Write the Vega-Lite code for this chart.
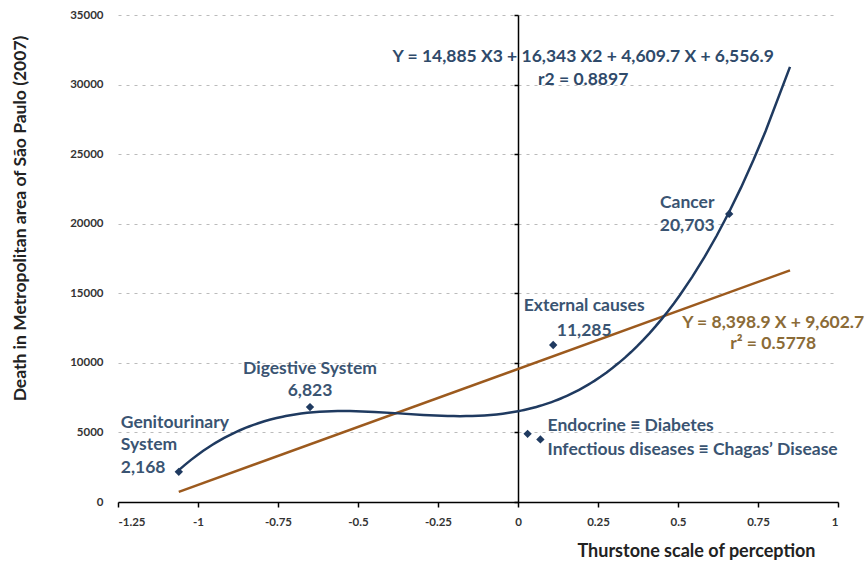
{
  "$schema": "https://vega.github.io/schema/vega-lite/v6.json",
  "autosize": "none",
  "padding": {"left": 118, "top": 15, "right": 28, "bottom": 69},
  "width": 720,
  "height": 487,
  "background": "white",
  "config": {"view": {"stroke": null}, "font": "Lato"},
  "data": {"values": [
    {"cause": "Genitourinary System", "x": -1.06, "deaths": 2168},
    {"cause": "Digestive System", "x": -0.65, "deaths": 6823},
    {"cause": "Endocrine", "x": 0.03, "deaths": 4900},
    {"cause": "Infectious diseases", "x": 0.07, "deaths": 4500},
    {"cause": "External causes", "x": 0.11, "deaths": 11285},
    {"cause": "Cancer", "x": 0.66, "deaths": 20703}
  ]},
  "encoding": {
    "x": {"field": "x", "type": "quantitative",
      "scale": {"domain": [-1.25, 1], "nice": false, "zero": false},
      "axis": {"values": [-1.25, -1, -0.75, -0.5, -0.25, 0, 0.25, 0.5, 0.75, 1],
        "labelExpr": "replace(format(datum.value, '.4~g'), '\u2212', '-')",
        "grid": false, "domainColor": "#000000", "domainWidth": 1.5,
        "tickColor": "#000000", "tickWidth": 1.5, "tickSize": 5,
        "labelFont": "Lato", "labelFontWeight": "bold", "labelFontSize": 11.5, "labelColor": "#333333", "labelPadding": 9,
        "title": "Thurstone scale of perception", "titleFont": "Lato", "titleFontWeight": "bold", "titleFontSize": 18, "titleColor": "#222222",
        "titleX": 697, "titleY": 49, "titleAlign": "right", "titleBaseline": "middle", "titleAnchor": null}},
    "y": {"field": "deaths", "type": "quantitative",
      "scale": {"domain": [0, 35000], "nice": false},
      "axis": {"values": [0, 5000, 10000, 15000, 20000, 25000, 30000, 35000], "format": "d",
        "offset": -400, "domainColor": "#000000", "domainWidth": 1.5,
        "tickColor": "#000000", "tickWidth": 1.5, "tickSize": 4, "labelPadding": 411,
        "grid": true, "gridColor": "#BBBBBB", "gridDash": [3, 5], "gridWidth": 1,
        "labelFont": "Lato", "labelFontWeight": "bold", "labelFontSize": 11.5, "labelColor": "#333333",
        "title": "Death in Metropolitan area of  S\u00e3o Paulo (2007)", "titleFont": "Lato", "titleFontWeight": "bold", "titleFontSize": 17.5, "titleColor": "#222222",
        "titleX": -498, "titleY": 203, "titleAngle": -90, "titleAlign": "center", "titleBaseline": "middle", "titleAnchor": null}}
  },
  "layer": [
    {"transform": [{"regression": "deaths", "on": "x", "method": "linear", "extent": [-1.06, 0.85]}],
     "mark": {"type": "line", "color": "#9C5A1E", "strokeWidth": 2.5}},
    {"transform": [{"regression": "deaths", "on": "x", "method": "poly", "order": 3, "extent": [-1.06, 0.85]}],
     "mark": {"type": "line", "color": "#1F3A60", "strokeWidth": 2.5}},
    {"mark": {"type": "point", "shape": "diamond", "filled": true, "color": "#1F3A60", "size": 70, "opacity": 1}},
    {"transform": [{"filter": "datum.cause === 'Genitourinary System'"}],
     "mark": {"type": "text", "text": ["Genitourinary", "System", "2,168"], "align": "left", "baseline": "middle", "dx": -58, "dy": -49, "lineHeight": 22.5, "font": "Lato", "fontWeight": "bold", "fontSize": 17.5, "color": "#3A5472"}},
    {"transform": [{"filter": "datum.cause === 'Digestive System'"}],
     "mark": {"type": "text", "text": ["Digestive System", "6,823"], "align": "center", "baseline": "middle", "dx": 0, "dy": -38, "lineHeight": 22, "font": "Lato", "fontWeight": "bold", "fontSize": 17.5, "color": "#3A5472"}},
    {"transform": [{"filter": "datum.cause === 'Endocrine'"}],
     "mark": {"type": "text", "text": ["Endocrine \u2261 Diabetes", "Infectious diseases \u2261 Chagas\u2019 Disease"], "align": "left", "baseline": "middle", "dx": 20, "dy": -8, "lineHeight": 24, "font": "Lato", "fontWeight": "bold", "fontSize": 17.5, "color": "#3A5472"}},
    {"transform": [{"filter": "datum.cause === 'External causes'"}],
     "mark": {"type": "text", "text": ["External causes", "11,285"], "align": "center", "baseline": "middle", "dx": 31, "dy": -39, "lineHeight": 25, "font": "Lato", "fontWeight": "bold", "fontSize": 17.5, "color": "#3A5472"}},
    {"transform": [{"filter": "datum.cause === 'Cancer'"}],
     "mark": {"type": "text", "text": ["Cancer", "20,703"], "align": "center", "baseline": "middle", "dx": -42, "dy": -11, "lineHeight": 23, "font": "Lato", "fontWeight": "bold", "fontSize": 17.5, "color": "#3A5472"}},
    {"transform": [{"filter": "datum.cause === 'Cancer'"}],
     "mark": {"type": "text", "text": ["Y = 14,885 X3 + 16,343 X2 + 4,609.7 X + 6,556.9", "r2 = 0.8897"], "align": "center", "baseline": "middle", "dx": -146, "dy": -157, "lineHeight": 23, "font": "Lato", "fontWeight": "bold", "fontSize": 17.5, "color": "#2F4A6A"}},
    {"transform": [{"filter": "datum.cause === 'Cancer'"}],
     "mark": {"type": "text", "text": ["Y = 8,398.9 X + 9,602.7", "r\u00b2 = 0.5778"], "align": "center", "baseline": "middle", "dx": 44, "dy": 109, "lineHeight": 21, "font": "Lato", "fontWeight": "bold", "fontSize": 17.5, "color": "#8B6B37"}}
  ]
}
